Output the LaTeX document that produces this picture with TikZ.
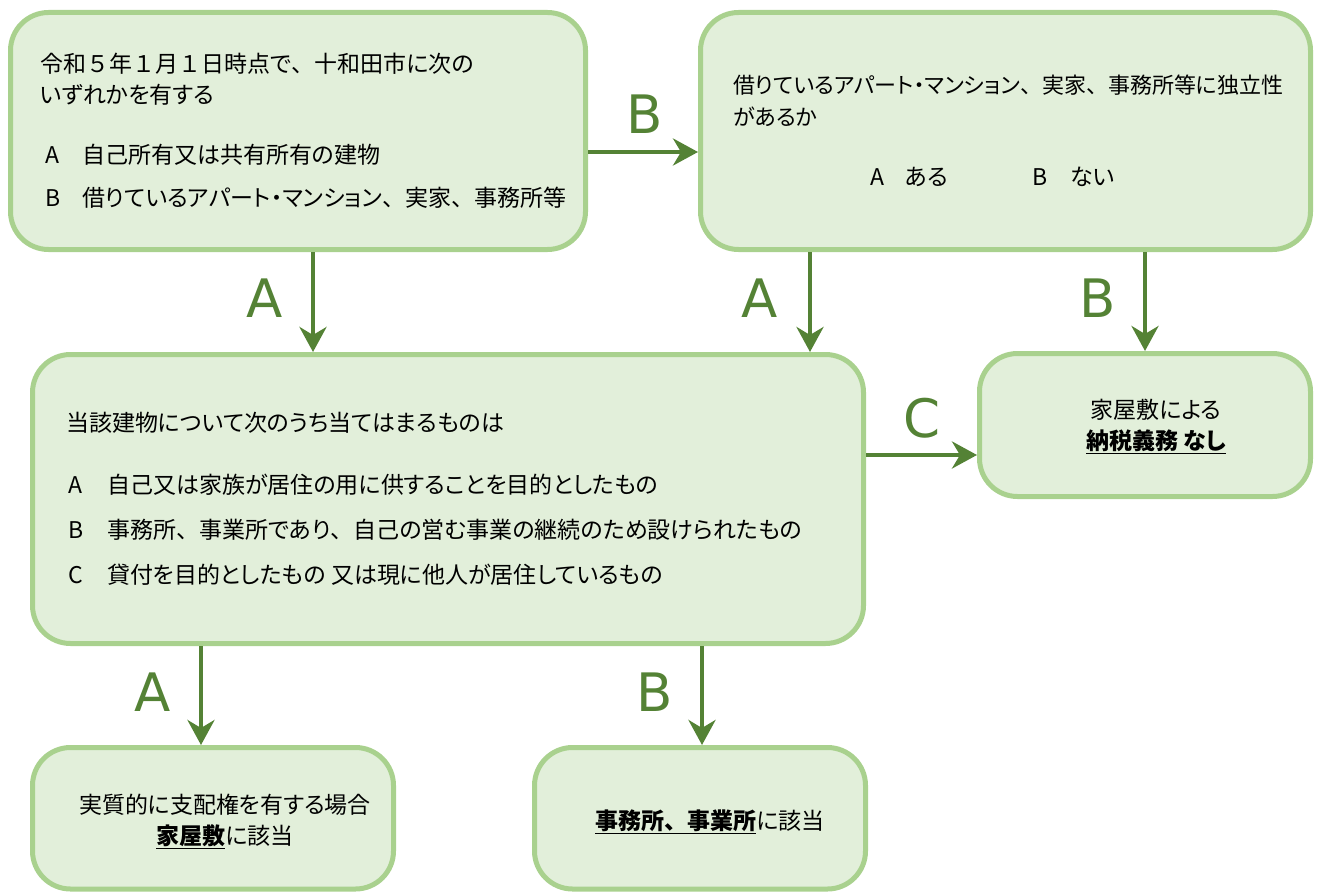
\documentclass[tikz,border=0pt]{standalone}
\usepackage{fontspec}
\setmainfont{Noto Sans CJK JP}[RawFeature=+palt]
\newfontfamily\fullwidth{Noto Sans CJK JP}
\newfontfamily\lblfont{DejaVu Sans}
\newcommand{\jc}{{\fullwidth 、}}
\newcommand{\jd}[1]{{\fullwidth #1}}
\usetikzlibrary{arrows.meta}

\definecolor{boxfill}{HTML}{E2EFDA}
\definecolor{boxline}{HTML}{A9D18E}
\definecolor{arrowgreen}{HTML}{548235}

\tikzset{
  box/.style = {rectangle, draw = boxline, fill = boxfill, line width = 5pt,
    rounded corners = 38pt},
  arr/.style = {draw = arrowgreen, line width = 4.5pt,
    -{Stealth[length = 25pt, width = 27pt, inset = 8pt]}},
  lbl/.style = {text = arrowgreen, inner sep = 0pt,
    font = \lblfont\fontsize{53}{60}\selectfont},
  txt/.style = {anchor = west, inner sep = 0pt, align = left,
    font = \fontsize{23}{31}\selectfont}
}

\begin{document}
\begin{tikzpicture}[x = 1pt, y = -1pt]
  \useasboundingbox (0, 0) rectangle (1321, 893);

  % boxes
  \node[box, minimum width = 575pt, minimum height = 237pt] (ask) at (298, 131) {};
  \node[box, minimum width = 610pt, minimum height = 237pt] (indep) at (1005.5, 131) {};
  \node[box, minimum width = 831pt, minimum height = 289pt] (use) at (448, 499) {};
  \node[box, minimum width = 331pt, minimum height = 143pt] (none) at (1145, 425) {};
  \node[box, minimum width = 361pt, minimum height = 141.5pt] (house) at (213, 818.25) {};
  \node[box, minimum width = 331pt, minimum height = 141.5pt] (office) at (700, 818.25) {};

  % texts
  \node[txt] (ask-t) at (40, 79.5)
  {令和\jd{５}年\jd{１}月\jd{１}日時点で\jc 十和田市に次の\\いずれかを有する};
  \node[txt] (ask-a) at (45, 155) {\makebox[37pt][l]{A}自己所有又は共有所有の建物};
  \node[txt] (ask-b) at (45, 198) {\makebox[37pt][l]{B}借りているアパート・マンション\jc 実家\jc 事務所等};

  \node[txt, font = \fontsize{22}{32}\selectfont] (indep-t) at (733, 101)
  {借りているアパート・マンション\jc 実家\jc 事務所等に独立性\\があるか};
  \node[txt] (indep-a) at (870, 177) {\makebox[35pt][l]{A}ある};
  \node[txt] (indep-b) at (1032, 177) {\makebox[38pt][l]{B}ない};

  \node[txt] (use-t) at (66, 423) {当該建物について次のうち当てはまるものは};
  \node[txt] (use-a) at (68, 485) {\makebox[39pt][l]{A}自己又は家族が居住の用に供することを目的としたもの};
  \node[txt] (use-b) at (68, 530) {\makebox[39pt][l]{B}事務所\jc 事業所であり\jc 自己の営む事業の継続のため設けられたもの};
  \node[txt] (use-c) at (68, 575) {\makebox[39pt][l]{C}貸付を目的としたもの 又は現に他人が居住しているもの};

  \node[txt, anchor = center, align = center] (none-t) at (1156, 426)
  {家屋敷による\\{\bfseries\underline{納税義務 なし}}};
  \node[txt, anchor = center, align = center] (house-t) at (225, 821)
  {実質的に支配権を有する場合\\{\bfseries\underline{家屋敷}}に該当};
  \node[txt, anchor = center] (office-t) at (710, 822)
  {{\bfseries\underline{事務所\jc 事業所}}に該当};

  % connectors
  \coordinate (rowB) at (0, 152);
  \coordinate (rowC) at (0, 455);
  \coordinate (colA) at (313, 0);
  \coordinate (colIA) at (810, 0);
  \coordinate (colIB) at (1145, 0);
  \coordinate (colUA) at (201, 0);
  \coordinate (colUB) at (702, 0);

  \draw[arr] (ask.east |- rowB) -- (indep.west |- rowB);
  \draw[arr] (ask.south -| colA) -- (use.north -| colA);
  \draw[arr] (indep.south -| colIA) -- (use.north -| colIA);
  \draw[arr] (indep.south -| colIB) -- (none.north -| colIB);
  \draw[arr] (use.east |- rowC) -- (none.west |- rowC);
  \draw[arr] (use.south -| colUA) -- (house.north -| colUA);
  \draw[arr] (use.south -| colUB) -- (office.north -| colUB);

  % labels
  \node[lbl] (lbl-ai) at (645, 114) {B};
  \node[lbl] (lbl-au) at (265, 298) {A};
  \node[lbl] (lbl-iu) at (760, 298) {A};
  \node[lbl] (lbl-in) at (1098, 298) {B};
  \node[lbl] (lbl-un) at (922, 418) {C};
  \node[lbl] (lbl-uh) at (153, 692) {A};
  \node[lbl] (lbl-uo) at (655, 692) {B};
\end{tikzpicture}
\end{document}
